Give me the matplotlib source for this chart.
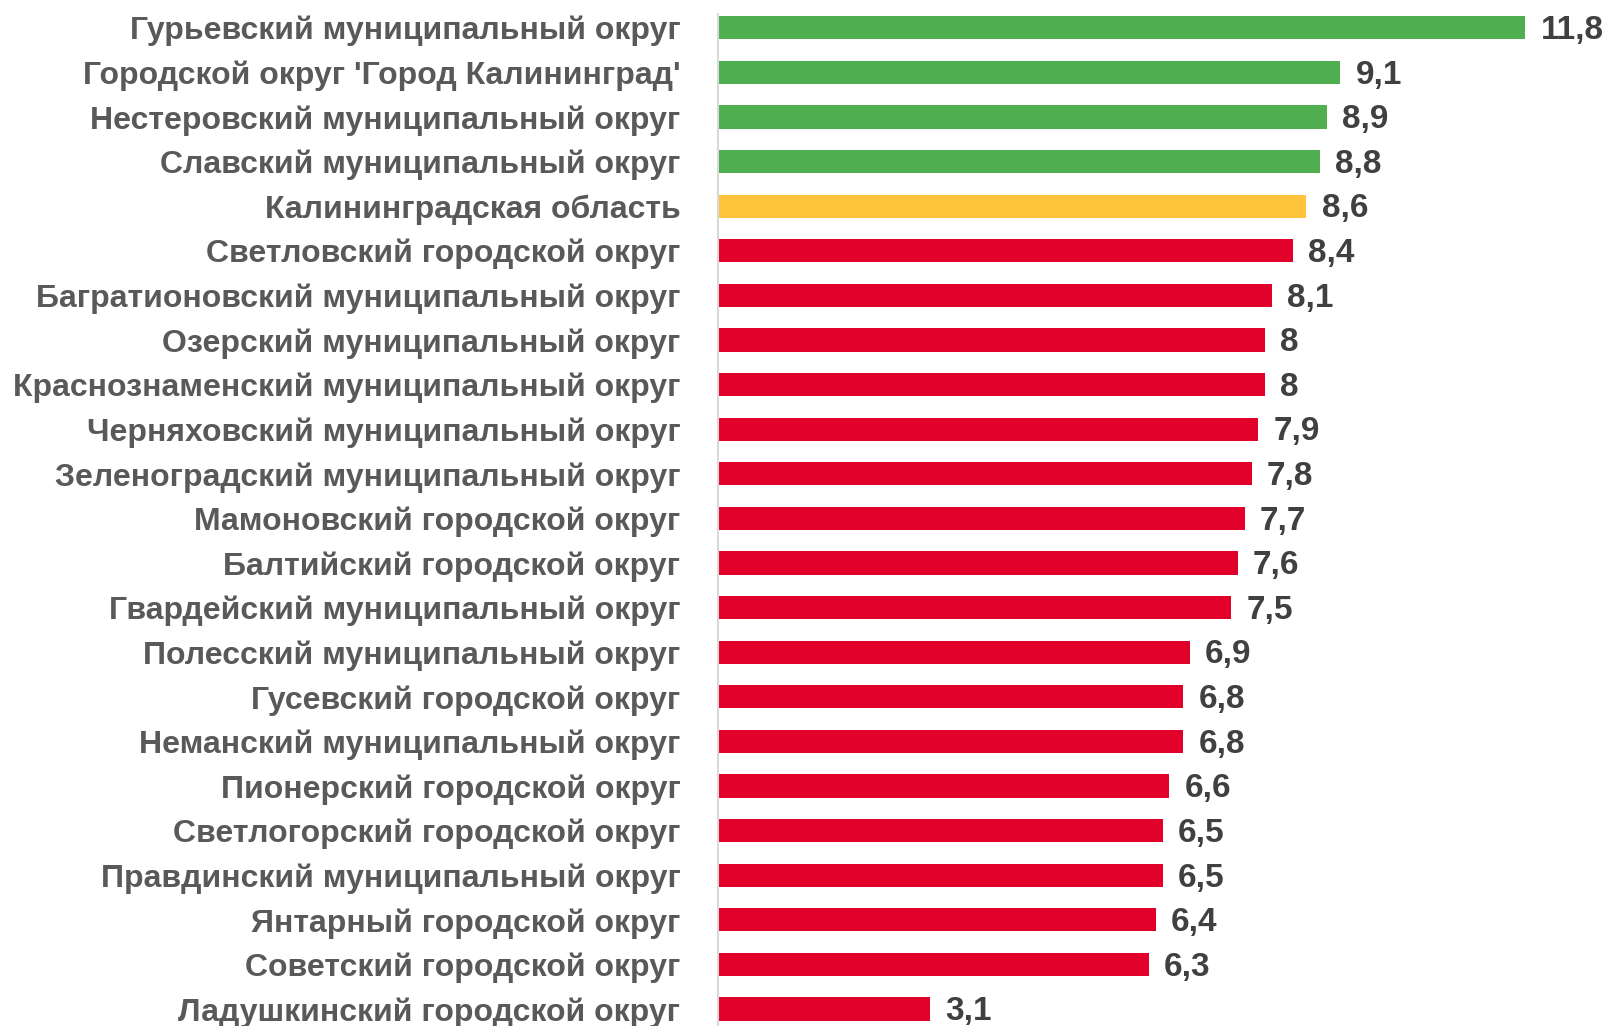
import matplotlib
matplotlib.use("Agg")
import matplotlib.pyplot as plt

categories = [
    "Гурьевский муниципальный округ",
    "Городской округ 'Город Калининград'",
    "Нестеровский муниципальный округ",
    "Славский муниципальный округ",
    "Калининградская область",
    "Светловский городской округ",
    "Багратионовский муниципальный округ",
    "Озерский муниципальный округ",
    "Краснознаменский муниципальный округ",
    "Черняховский муниципальный округ",
    "Зеленоградский муниципальный округ",
    "Мамоновский городской округ",
    "Балтийский городской округ",
    "Гвардейский муниципальный округ",
    "Полесский муниципальный округ",
    "Гусевский городской округ",
    "Неманский муниципальный округ",
    "Пионерский городской округ",
    "Светлогорский городской округ",
    "Правдинский муниципальный округ",
    "Янтарный городской округ",
    "Советский городской округ",
    "Ладушкинский городской округ",
]
values = [11.8, 9.1, 8.9, 8.8, 8.6, 8.4, 8.1, 8, 8, 7.9, 7.8, 7.7, 7.6, 7.5,
          6.9, 6.8, 6.8, 6.6, 6.5, 6.5, 6.4, 6.3, 3.1]
groups = ["g", "g", "g", "g", "y"] + ["r"] * 18

palette = {"g": "#4FAF50", "y": "#FFC33C", "r": "#E0002A"}

plt.rcParams["font.family"] = ["Liberation Sans", "DejaVu Sans"]

W, H = 1608, 1026
fig = plt.figure(figsize=(W / 100, H / 100), dpi=100)
ax = fig.add_axes([718 / W, 0, (1573 - 718) / W, 1])

ypos = list(range(len(categories)))
colors = [palette[g] for g in groups]
ax.barh(ypos, values, height=0.52, color=colors)

ax.set_xlim(0, 12.5)
ax.set_ylim(22.38, -0.621)

ax.set_yticks(ypos)
ax.set_yticklabels(categories, fontsize=23, fontweight="bold", color="#595959")
ax.tick_params(axis="y", length=0, pad=27)
ax.set_xticks([])

for s in ["top", "right", "bottom"]:
    ax.spines[s].set_visible(False)
ax.spines["left"].set_color("#D9D9D9")
ax.spines["left"].set_linewidth(1.5)
ax.spines["left"].set_bounds(22.5, -0.3)

for y, v in zip(ypos, values):
    txt = f"{v:g}".replace(".", ",")
    ax.annotate(txt, (v, y), xytext=(11, -2), textcoords="offset points",
                va="center", ha="left", fontsize=24, fontweight="bold",
                color="#404040", annotation_clip=False)

fig.savefig("out.png", dpi=100)
